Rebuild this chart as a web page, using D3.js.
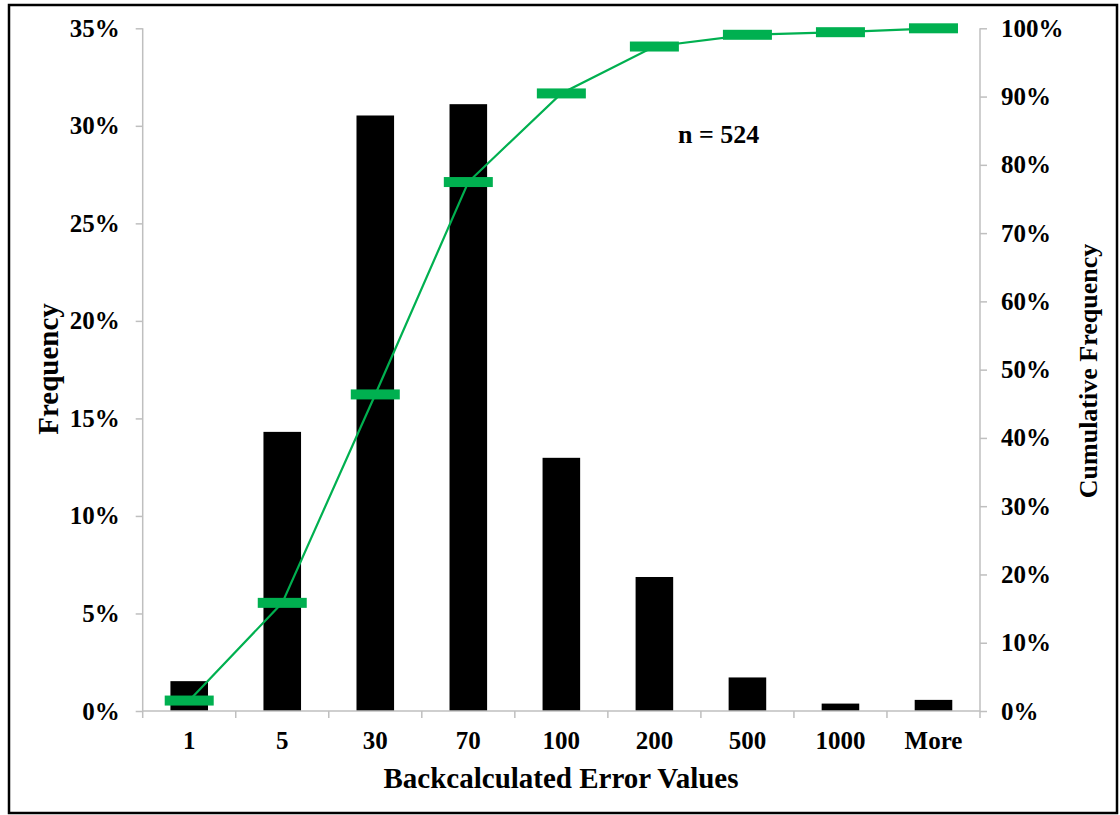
<!DOCTYPE html>
<html>
<head>
<meta charset="utf-8">
<script src="https://cdn.jsdelivr.net/npm/d3@7"></script>
<style>
  html, body { margin: 0; padding: 0; background: #fff; }
  svg text { font-family: "Liberation Serif", "Times New Roman", serif; font-weight: bold; fill: #000; }
</style>
</head>
<body>
<svg id="chart" width="1120" height="815"></svg>
<script>
const categories = ["1", "5", "30", "70", "100", "200", "500", "1000", "More"];
const frequency = [1.53, 14.31, 30.53, 31.11, 12.98, 6.87, 1.72, 0.38, 0.57];
const cumulative = [1.53, 15.84, 46.37, 77.48, 90.46, 97.33, 99.05, 99.43, 100];
const leftTicks = [0, 5, 10, 15, 20, 25, 30, 35];
const rightTicks = [0, 10, 20, 30, 40, 50, 60, 70, 80, 90, 100];
const xTitle = "Backcalculated Error Values";
const yTitle = "Frequency";
const y2Title = "Cumulative Frequency";
const note = "n = 524";

const svg = d3.select("#chart");
const m = { left: 142.7, right: 980, top: 28.3, bottom: 711 };

// outer frame
svg.append("rect").attr("x", 9).attr("y", 5).attr("width", 1108).attr("height", 808)
  .attr("fill", "none").attr("stroke", "#000").attr("stroke-width", 2.5);

const xb = d3.scaleBand().domain(categories).range([m.left, m.right]);
const y = d3.scaleLinear().domain([0, 35]).range([m.bottom, m.top]);
const y2 = d3.scaleLinear().domain([0, 100]).range([m.bottom, m.top]);

const axisColor = "#bfbfbf";
const barW = xb.bandwidth() * 0.404;

// bars
svg.append("g").selectAll("rect").data(frequency).join("rect")
  .attr("x", (d, i) => xb(categories[i]) + xb.bandwidth() / 2 - barW / 2)
  .attr("width", barW)
  .attr("y", d => y(d))
  .attr("height", d => y(0) - y(d))
  .attr("fill", "#000");

// axes
const gL = svg.append("g").attr("transform", `translate(${m.left},0)`)
  .call(d3.axisLeft(y).tickValues(leftTicks).tickFormat(d => d + "%").tickSize(7).tickPadding(16));
const gR = svg.append("g").attr("transform", `translate(${m.right},0)`)
  .call(d3.axisRight(y2).tickValues(rightTicks).tickFormat(d => d + "%").tickSize(7).tickPadding(14));
const gB = svg.append("g").attr("transform", `translate(0,${m.bottom})`)
  .call(d3.axisBottom(xb).tickSize(0).tickPadding(20));
// category boundary ticks
svg.append("g").selectAll("line").data(d3.range(categories.length + 1)).join("line")
  .attr("x1", i => m.left + i * xb.bandwidth())
  .attr("x2", i => m.left + i * xb.bandwidth())
  .attr("y1", m.bottom).attr("y2", m.bottom + 7)
  .attr("stroke", axisColor).attr("stroke-width", 1.5);

[gL, gR, gB].forEach(g => {
  g.selectAll(".domain").attr("stroke", axisColor).attr("stroke-width", 1.5);
  g.selectAll(".tick line").attr("stroke", axisColor).attr("stroke-width", 1.5);
  g.selectAll(".tick text").style("font-family", '"Liberation Serif", serif').style("font-weight", "bold").style("font-size", "25px").attr("fill", "#000");
});
gL.select(".domain").attr("d", `M0,${m.top}V${m.bottom}`);
gR.select(".domain").attr("d", `M0,${m.top}V${m.bottom}`);
gB.select(".domain").attr("d", `M${m.left},0H${m.right}`);

// cumulative line
const cx = (d, i) => xb(categories[i]) + xb.bandwidth() / 2;
svg.append("path").datum(cumulative)
  .attr("d", d3.line().x(cx).y(d => y2(d)))
  .attr("fill", "none").attr("stroke", "#00b050").attr("stroke-width", 2.2);
svg.append("g").selectAll("rect").data(cumulative).join("rect")
  .attr("x", (d, i) => cx(d, i) - 24.5)
  .attr("y", d => y2(d) - 5)
  .attr("width", 49).attr("height", 10)
  .attr("fill", "#00b050");

// titles
svg.append("text").attr("x", 561).attr("y", 788)
  .attr("text-anchor", "middle").style("font-size", "29px").text(xTitle);
svg.append("text").attr("transform", `translate(58,369) rotate(-90)`)
  .attr("text-anchor", "middle").style("font-size", "29px").text(yTitle);
svg.append("text").attr("transform", `translate(1097,371) rotate(-90)`)
  .attr("text-anchor", "middle").style("font-size", "26px").text(y2Title);
svg.append("text").attr("x", 678).attr("y", 143).style("font-size", "26px").text(note);
</script>
</body>
</html>
